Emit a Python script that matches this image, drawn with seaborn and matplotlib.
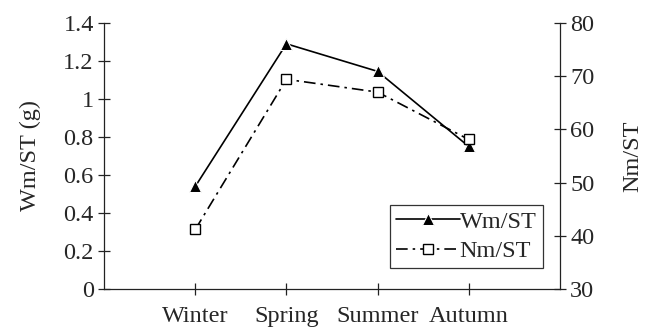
import numpy as np
import pandas as pd
import seaborn as sns
import matplotlib.pyplot as plt

# values
seasons = ["Winter", "Spring", "Summer", "Autumn"]
wm_st = [0.54, 1.29, 1.145, 0.75]   # left axis, g
nm_st = [41.2, 69.4, 67.0, 58.1]    # right axis

df = pd.DataFrame({"season": seasons, "Wm/ST": wm_st, "Nm/ST": nm_st})

sns.set_style("ticks")
plt.rcParams["font.family"] = ["Liberation Serif", "DejaVu Serif"]
fs = 17.5

fig = plt.figure(figsize=(6.51, 3.27), dpi=100)
ax = fig.add_axes([0.16, 0.116, 0.70, 0.814])
ax2 = ax.twinx()

sns.lineplot(data=df, x="season", y="Wm/ST", ax=ax, color="black",
             marker="^", markersize=9, linewidth=1.2, label="Wm/ST",
             legend=False, sort=False)
sns.lineplot(data=df, x="season", y="Nm/ST", ax=ax2, color="black",
             marker="s", markersize=6.5, markerfacecolor="white",
             markeredgecolor="black", markeredgewidth=1.0,
             linewidth=1.2, linestyle=(0, (7, 3, 1.5, 3)), label="Nm/ST",
             legend=False, sort=False)

ax.set_xlim(-1, 4)
ax.set_ylim(0, 1.4)
ax.set_yticks(np.arange(0, 1.41, 0.2))
ax.set_yticklabels(["0", "0.2", "0.4", "0.6", "0.8", "1", "1.2", "1.4"])
ax2.set_ylim(30, 80)
ax2.set_yticks(np.arange(30, 81, 10))

ax.set_xticks(range(len(seasons)))
ax.set_xticklabels(seasons)
ax.set_xlabel("")
ax.set_ylabel("Wm/ST (g)", fontsize=fs, labelpad=16)
ax2.set_ylabel("Nm/ST", fontsize=fs, labelpad=20)

for a in (ax, ax2):
    a.spines["top"].set_visible(False)
    for s in a.spines.values():
        s.set_linewidth(0.9)
        s.set_color("#222222")
    a.tick_params(direction="inout", length=9, width=0.9, color="#222222",
                  labelsize=fs, pad=3)
ax.spines["right"].set_visible(False)
ax2.spines["left"].set_visible(False)
ax2.spines["bottom"].set_visible(False)
ax.tick_params(axis="x", pad=8)

h1, l1 = ax.get_legend_handles_labels()
h2, l2 = ax2.get_legend_handles_labels()
leg = ax2.legend(h1 + h2, l1 + l2, loc="lower right",
                 bbox_to_anchor=(0.962, 0.078), frameon=True, fancybox=False,
                 edgecolor="black", handlelength=2.6, handletextpad=0.0,
                 borderpad=0.25, labelspacing=0.3, fontsize=fs,
                 borderaxespad=0)
leg.get_frame().set_linewidth(0.9)

fig.savefig("out.png", dpi=100)
